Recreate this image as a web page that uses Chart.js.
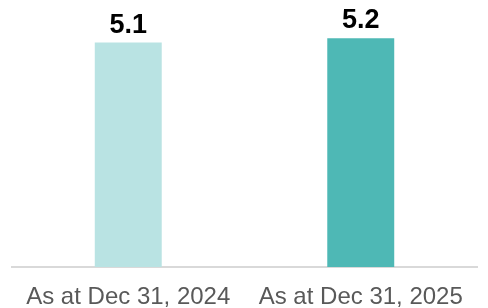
<!DOCTYPE html>
<html>
<head>
<meta charset="utf-8">
<script src="https://cdn.jsdelivr.net/npm/chart.js@4"></script>
<style>
html,body{margin:0;padding:0;background:#fff;}
#wrap{width:488px;height:308px;}
</style>
</head>
<body>
<div id="wrap"><canvas id="c" width="488" height="308"></canvas></div>
<script>
const categories = ["As at Dec 31, 2024", "As at Dec 31, 2025"];
const values = [5.1, 5.2];
const valueLabels = ["5.1", "5.2"];
const barColors = ["#B9E3E3", "#4EB8B5"];

const valueLabelPlugin = {
  id: 'valueLabels',
  afterDatasetsDraw(chart) {
    const ctx = chart.ctx;
    const meta = chart.getDatasetMeta(0);
    ctx.save();
    ctx.font = 'bold 27px "Liberation Sans", Arial, sans-serif';
    ctx.fillStyle = '#000000';
    ctx.textAlign = 'center';
    ctx.textBaseline = 'alphabetic';
    meta.data.forEach((bar, i) => {
      ctx.fillText(valueLabels[i], bar.x, bar.y - 10);
    });
    ctx.restore();
  }
};

new Chart(document.getElementById('c'), {
  type: 'bar',
  data: {
    labels: categories,
    datasets: [{
      data: values,
      backgroundColor: barColors,
      borderWidth: 0,
      categoryPercentage: 1,
      barPercentage: 0.288
    }]
  },
  options: {
    responsive: false,
    animation: false,
    devicePixelRatio: 1,
    layout: { padding: { left: 12, right: 11, top: 3, bottom: 0 } },
    plugins: { legend: { display: false }, tooltip: { enabled: false } },
    scales: {
      y: { display: false, min: 0, max: 6 },
      x: {
        grid: { display: false, drawTicks: false },
        border: { display: true, color: '#D9D9D9', width: 2 },
        afterFit(scale) { scale.height = 41; },
        ticks: {
          color: '#595959',
          padding: 16,
          font: { family: '"Liberation Sans", Arial, sans-serif', size: 24 },
          maxRotation: 0,
          autoSkip: false
        }
      }
    }
  },
  plugins: [valueLabelPlugin]
});
</script>
</body>
</html>
